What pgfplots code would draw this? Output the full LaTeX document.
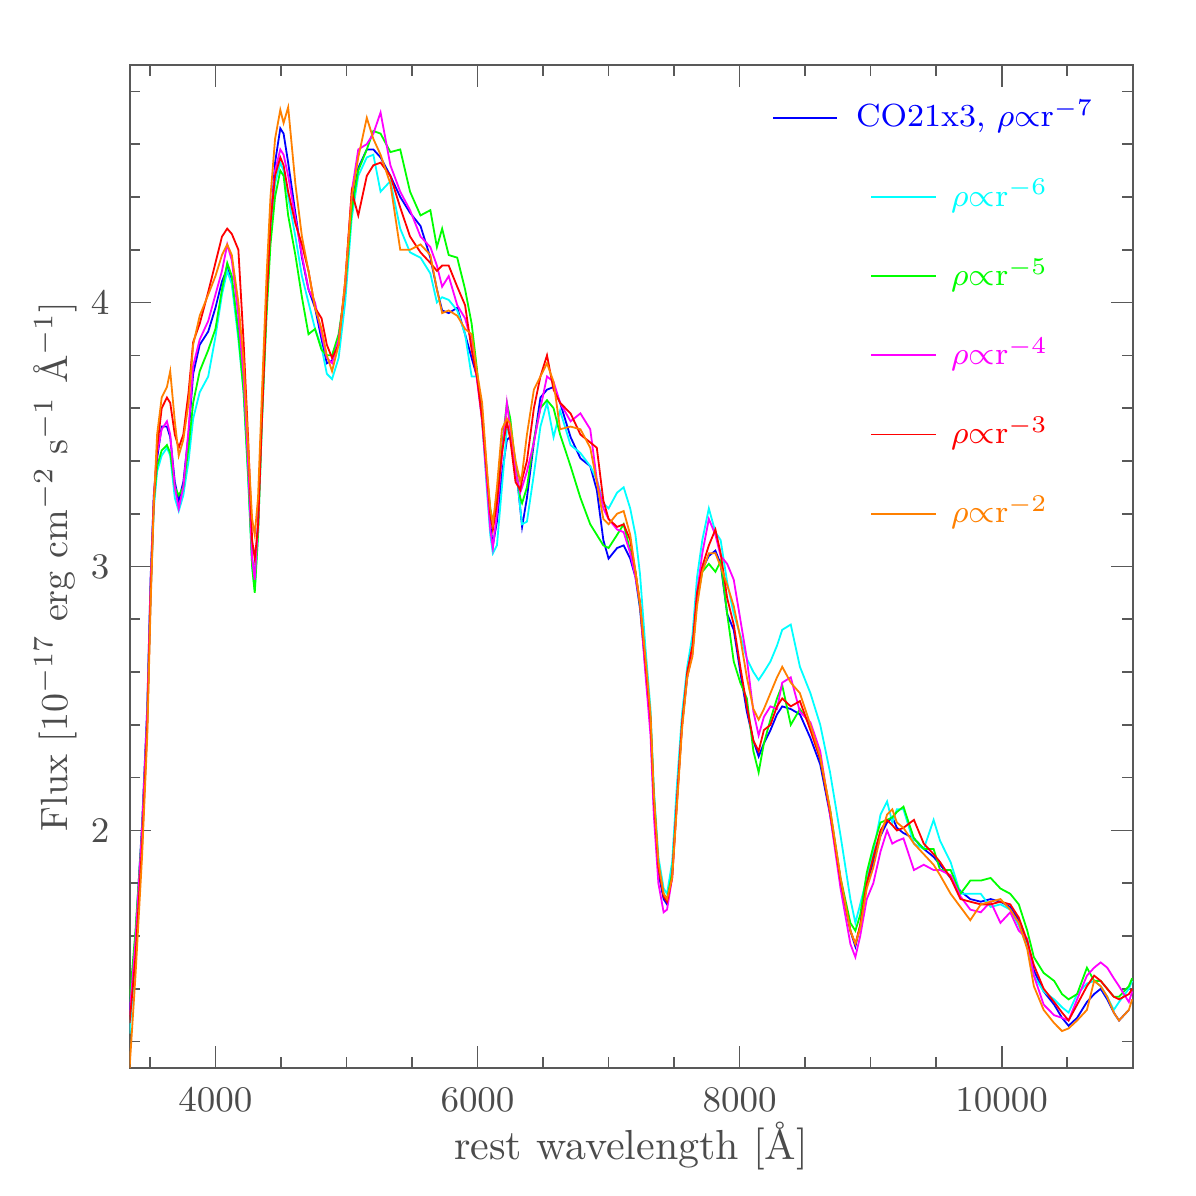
\documentclass[border=0pt]{standalone}
\usepackage{pgfplots}
\pgfplotsset{compat=1.18}
\usepackage{pgfplotstable}
\definecolor{cB}{RGB}{0,0,255}
\definecolor{cC}{RGB}{0,255,255}
\definecolor{cG}{RGB}{0,255,0}
\definecolor{cM}{RGB}{255,0,255}
\definecolor{cR}{RGB}{255,0,0}
\definecolor{cO}{RGB}{255,128,0}
\definecolor{txt}{RGB}{75,75,75}
\tikzset{legtxt/.style={anchor=base west, inner sep=0pt, font=\fontsize{8}{10}\selectfont, yshift=-2.3pt}}

\pgfplotstableread{
x b c g m r o
3345 1.32 1.23 1.35 1.30 1.27 1.10
3390 1.60 1.52 1.62 1.58 1.52 1.45
3440 2.02 1.95 2.00 2.00 1.94 1.90
3480 2.47 2.42 2.44 2.45 2.40 2.36
3505 2.95 2.88 2.92 2.93 2.88 2.85
3530 3.27 3.22 3.25 3.27 3.25 3.24
3555 3.41 3.36 3.38 3.43 3.45 3.50
3590 3.53 3.42 3.44 3.52 3.60 3.64
3630 3.53 3.45 3.46 3.55 3.64 3.68
3655 3.49 3.42 3.43 3.50 3.62 3.74
3690 3.32 3.26 3.30 3.30 3.50 3.55
3720 3.25 3.21 3.27 3.22 3.45 3.42
3755 3.32 3.27 3.30 3.30 3.50 3.48
3795 3.50 3.40 3.45 3.52 3.66 3.62
3830 3.73 3.56 3.62 3.76 3.85 3.84
3880 3.84 3.66 3.74 3.86 3.92 3.95
3945 3.89 3.72 3.82 3.93 4.04 4.03
4000 3.98 3.87 3.90 4.03 4.15 4.10
4050 4.08 4.03 4.05 4.12 4.25 4.18
4090 4.13 4.12 4.15 4.22 4.28 4.22
4125 4.08 4.07 4.10 4.16 4.26 4.18
4175 3.89 3.86 3.88 3.95 4.20 4.00
4215 3.69 3.66 3.66 3.72 3.85 3.78
4250 3.37 3.33 3.34 3.38 3.48 3.45
4280 3.03 3.00 3.00 3.03 3.10 3.18
4300 2.95 2.91 2.90 2.95 3.03 3.12
4325 3.17 3.12 3.12 3.16 3.15 3.26
4355 3.60 3.55 3.55 3.60 3.56 3.66
4390 4.02 3.98 3.95 4.04 4.00 4.10
4420 4.29 4.25 4.22 4.30 4.30 4.40
4455 4.53 4.45 4.40 4.50 4.48 4.62
4495 4.66 4.53 4.50 4.58 4.55 4.73
4520 4.64 4.50 4.48 4.56 4.52 4.68
4555 4.53 4.40 4.33 4.48 4.42 4.74
4610 4.34 4.25 4.18 4.32 4.30 4.45
4660 4.17 4.10 4.02 4.18 4.22 4.25
4710 4.05 4.00 3.88 4.05 4.12 4.12
4760 3.98 3.90 3.90 4.00 3.98 3.98
4810 3.86 3.83 3.82 3.88 3.94 3.90
4850 3.77 3.73 3.80 3.79 3.84 3.80
4890 3.78 3.71 3.80 3.77 3.79 3.74
4940 3.86 3.79 3.88 3.86 3.84 3.84
4990 4.05 4.00 4.05 4.06 4.08 4.08
5040 4.37 4.32 4.35 4.42 4.42 4.40
5090 4.51 4.48 4.50 4.58 4.33 4.55
5155 4.58 4.55 4.58 4.60 4.48 4.70
5205 4.58 4.56 4.65 4.64 4.52 4.62
5260 4.55 4.42 4.64 4.72 4.53 4.56
5335 4.48 4.46 4.57 4.52 4.48 4.45
5410 4.40 4.28 4.58 4.42 4.36 4.20
5485 4.34 4.19 4.42 4.35 4.25 4.20
5565 4.29 4.17 4.33 4.25 4.19 4.22
5640 4.17 4.11 4.35 4.21 4.15 4.18
5690 4.05 4.00 4.21 4.14 4.12 4.05
5730 3.97 4.02 4.28 4.06 4.14 3.96
5780 3.96 4.01 4.18 4.10 4.14 3.97
5845 3.98 3.97 4.17 3.99 4.06 3.95
5905 3.88 3.88 4.05 3.94 3.99 3.90
5955 3.79 3.72 3.92 3.85 3.82 3.88
5995 3.72 3.72 3.75 3.71 3.72 3.74
6035 3.59 3.56 3.55 3.55 3.56 3.62
6070 3.36 3.30 3.35 3.32 3.36 3.38
6097 3.16 3.12 3.22 3.14 3.20 3.22
6117 3.08 3.05 3.17 3.07 3.14 3.16
6148 3.17 3.08 3.25 3.20 3.24 3.30
6186 3.35 3.30 3.45 3.42 3.43 3.52
6224 3.48 3.52 3.62 3.62 3.55 3.56
6250 3.49 3.52 3.56 3.52 3.48 3.54
6290 3.39 3.40 3.38 3.36 3.32 3.40
6326 3.22 3.22 3.26 3.28 3.29 3.32
6340 3.15 3.16 3.24 3.30 3.33 3.35
6377 3.26 3.17 3.30 3.36 3.40 3.50
6430 3.47 3.35 3.48 3.47 3.60 3.67
6480 3.64 3.53 3.60 3.60 3.72 3.72
6530 3.67 3.62 3.63 3.72 3.80 3.77
6580 3.68 3.49 3.60 3.70 3.67 3.70
6630 3.62 3.59 3.50 3.62 3.62 3.52
6710 3.49 3.46 3.38 3.55 3.58 3.53
6785 3.41 3.43 3.26 3.58 3.50 3.52
6860 3.38 3.38 3.16 3.52 3.47 3.45
6910 3.29 3.33 3.12 3.33 3.45 3.32
6960 3.10 3.24 3.08 3.22 3.25 3.18
7000 3.03 3.22 3.07 3.18 3.18 3.16
7065 3.07 3.28 3.12 3.14 3.15 3.20
7115 3.08 3.30 3.16 3.13 3.16 3.21
7165 3.03 3.22 3.06 3.05 3.10 3.12
7205 2.96 3.12 2.98 2.96 2.98 2.98
7240 2.84 2.97 2.85 2.86 2.86 2.86
7280 2.62 2.70 2.64 2.60 2.64 2.66
7320 2.40 2.46 2.42 2.36 2.42 2.44
7345 2.10 2.16 2.14 2.06 2.12 2.14
7380 1.84 1.90 1.86 1.80 1.86 1.88
7420 1.74 1.78 1.76 1.69 1.75 1.76
7446 1.72 1.76 1.74 1.70 1.73 1.74
7485 1.84 1.88 1.84 1.82 1.82 1.82
7520 2.13 2.16 2.10 2.10 2.10 2.08
7560 2.40 2.44 2.40 2.40 2.40 2.38
7600 2.59 2.62 2.58 2.58 2.60 2.58
7640 2.67 2.74 2.68 2.68 2.70 2.66
7675 2.89 2.96 2.87 2.90 2.90 2.85
7715 2.99 3.10 2.98 3.05 3.00 2.98
7765 3.04 3.22 3.01 3.18 3.08 3.05
7815 3.06 3.13 2.98 3.12 3.14 3.05
7855 3.01 3.10 3.02 3.04 3.05 3.00
7905 2.82 2.94 2.82 3.01 2.88 2.93
7955 2.76 2.82 2.64 2.95 2.78 2.85
8005 2.60 2.74 2.56 2.80 2.62 2.73
8055 2.45 2.65 2.50 2.65 2.47 2.58
8105 2.34 2.60 2.30 2.45 2.34 2.46
8145 2.28 2.57 2.22 2.36 2.30 2.42
8185 2.33 2.60 2.33 2.43 2.38 2.46
8235 2.38 2.64 2.42 2.47 2.40 2.52
8285 2.44 2.70 2.50 2.46 2.47 2.58
8325 2.47 2.76 2.55 2.56 2.50 2.62
8390 2.46 2.78 2.40 2.58 2.47 2.56
8460 2.44 2.62 2.46 2.45 2.49 2.52
8540 2.35 2.52 2.40 2.41 2.38 2.40
8615 2.25 2.40 2.27 2.30 2.27 2.28
8690 2.06 2.22 2.08 2.06 2.07 2.08
8770 1.81 1.98 1.82 1.78 1.81 1.82
8845 1.62 1.74 1.65 1.57 1.62 1.62
8883 1.56 1.65 1.62 1.52 1.57 1.57
8920 1.64 1.72 1.68 1.60 1.64 1.63
8970 1.80 1.82 1.84 1.74 1.80 1.78
9020 1.88 1.92 1.94 1.80 1.90 1.86
9075 1.98 2.06 2.03 1.92 2.00 1.98
9125 2.03 2.11 2.04 2.00 2.04 2.06
9165 2.05 2.03 2.05 1.95 2.02 2.08
9200 2.01 2.08 2.07 1.96 2.00 2.03
9250 1.99 2.08 2.09 1.97 2.01 2.01
9330 1.97 1.95 1.97 1.85 2.04 1.95
9405 1.93 1.93 1.93 1.87 1.95 1.91
9480 1.90 2.04 1.93 1.85 1.91 1.87
9530 1.87 1.96 1.85 1.85 1.88 1.83
9610 1.82 1.88 1.85 1.83 1.82 1.76
9685 1.77 1.76 1.76 1.75 1.74 1.71
9760 1.74 1.76 1.81 1.70 1.73 1.66
9840 1.73 1.76 1.81 1.69 1.72 1.72
9915 1.74 1.71 1.82 1.73 1.72 1.73
9990 1.73 1.72 1.78 1.65 1.73 1.74
10065 1.71 1.70 1.76 1.69 1.72 1.70
10130 1.66 1.64 1.72 1.62 1.67 1.65
10195 1.57 1.56 1.62 1.59 1.58 1.55
10245 1.47 1.45 1.52 1.45 1.49 1.41
10320 1.39 1.39 1.46 1.34 1.40 1.32
10400 1.34 1.36 1.43 1.30 1.35 1.27
10460 1.29 1.33 1.38 1.29 1.31 1.24
10510 1.26 1.31 1.36 1.28 1.28 1.25
10575 1.29 1.38 1.38 1.36 1.34 1.28
10650 1.35 1.42 1.48 1.45 1.41 1.32
10705 1.38 1.43 1.43 1.48 1.45 1.43
10755 1.40 1.41 1.43 1.50 1.43 1.41
10805 1.36 1.37 1.40 1.48 1.40 1.37
10855 1.31 1.32 1.37 1.44 1.37 1.31
10895 1.28 1.35 1.37 1.41 1.36 1.28
10970 1.32 1.40 1.41 1.35 1.38 1.32
10995 nan 1.43 1.44 1.39 1.40 1.36
}\spec

\begin{document}
\begin{tikzpicture}
\path (-32.4pt,-32pt) rectangle (266.6pt,267pt);
\begin{axis}[
  scale only axis, width=250.8pt, height=250.75pt,
  at={(0pt,0pt)}, anchor=south west,
  xmin=3345, xmax=11000, ymin=1.1, ymax=4.9,
  xtick={4000,6000,8000,10000},
  minor xtick={3500,4000,...,11000},
  ytick={2,3,4},
  minor ytick={1.2,1.4,1.6,1.8,2.0,2.2,2.4,2.6,2.8,3.0,3.2,3.4,3.6,3.8,4.0,4.2,4.4,4.6,4.8},
  tick pos=both, tick align=inside,
  major tick length=5.4pt, minor tick length=2.7pt,
  axis line style={black!65, line width=0.5pt},
  every tick/.style={black!65, line width=0.4pt},
  scaled x ticks=false,
  /pgf/number format/1000 sep={},
  xticklabel style={font=\fontsize{9.5}{11}\selectfont, text=txt, yshift=-1.5pt},
  yticklabel style={font=\fontsize{9.5}{11}\selectfont, text=txt, xshift=-1.5pt},
  xlabel={rest wavelength [\AA]},
  ylabel={Flux [10$^{-17}$ erg cm$^{-2}$ s$^{-1}$ \AA$^{-1}$]},
  xlabel style={at={(axis description cs:0.5,-0.078)}, anchor=center, font=\fontsize{10.5}{12}\selectfont, text=txt},
  ylabel style={at={(axis description cs:-0.074,0.5)}, anchor=center, font=\fontsize{9.5}{11}\selectfont, text=txt},
]
\addplot[cB, line width=0.45pt] table[x=x,y=b]{\spec};
\addplot[cC, line width=0.45pt] table[x=x,y=c]{\spec};
\addplot[cG, line width=0.45pt] table[x=x,y=g]{\spec};
\addplot[cM, line width=0.45pt] table[x=x,y=m]{\spec};
\addplot[cR, line width=0.45pt] table[x=x,y=r]{\spec};
\addplot[cO, line width=0.45pt] table[x=x,y=o]{\spec};

% legend
\addplot[cB, line width=0.45pt, forget plot] coordinates {(8255,4.70) (8746,4.70)};
\addplot[cC, line width=0.45pt, forget plot] coordinates {(9005,4.40) (9499,4.40)};
\addplot[cG, line width=0.45pt, forget plot] coordinates {(9005,4.10) (9499,4.10)};
\addplot[cM, line width=0.45pt, forget plot] coordinates {(9005,3.80) (9499,3.80)};
\addplot[cR, line width=0.45pt, forget plot] coordinates {(9005,3.50) (9499,3.50)};
\addplot[cO, line width=0.45pt, forget plot] coordinates {(9005,3.20) (9499,3.20)};
\node[legtxt, text=cB] at (axis cs:8883,4.70) {CO21x3, $\rho{\propto}\mathrm{r}^{-7}$};
\node[legtxt, text=cC] at (axis cs:9608,4.40) {$\rho{\propto}\mathrm{r}^{-6}$};
\node[legtxt, text=cG] at (axis cs:9608,4.10) {$\rho{\propto}\mathrm{r}^{-5}$};
\node[legtxt, text=cM] at (axis cs:9608,3.80) {$\rho{\propto}\mathrm{r}^{-4}$};
\node[legtxt, text=cR] at (axis cs:9608,3.50) {$\rho{\propto}\mathrm{r}^{-3}$};
\node[legtxt, text=cO] at (axis cs:9608,3.20) {$\rho{\propto}\mathrm{r}^{-2}$};
\end{axis}
\end{tikzpicture}
\end{document}
